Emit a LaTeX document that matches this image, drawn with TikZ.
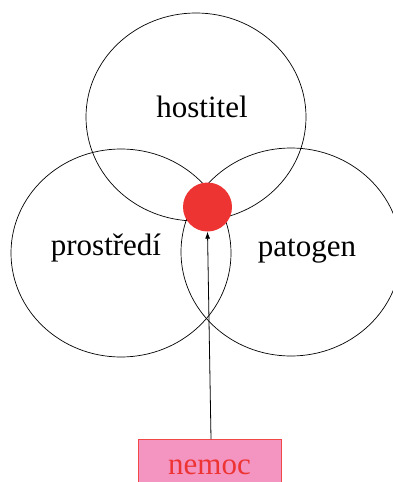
\documentclass[tikz,border=0pt]{standalone}
\usepackage{fontspec}
\setmainfont{Liberation Serif}
\usepackage{xcolor}
\usetikzlibrary{calc, shapes.geometric, positioning, arrows.meta}
\definecolor{nemocred}{HTML}{EE3333}
\definecolor{nemocpink}{HTML}{F395C0}

\begin{document}
\begin{tikzpicture}[x=1pt, y=-1pt, >={Latex[length=7pt, width=5pt]},
    kruh/.style={draw, ellipse, minimum width=220pt, minimum height=208pt, inner sep=0pt, line width=0.7pt},
    popis/.style={anchor=base, inner sep=0pt, font=\fontsize{31}{36}\selectfont}]
    % 0. Hranice obrázku
    \useasboundingbox (0,0) rectangle (393,482);
    \clip (0,0) rectangle (393,482);

    % 1. Tři kruhy
    \node[kruh] (hostitel) at (196,117) {};
    \node[kruh] (prostredi) at (121,253) {};
    \node[kruh] (patogen) at (291,252) {};

    % 2. Popisky kruhů
    \node[popis] (lhostitel) at (202,117) {hostitel};
    \node[popis] (lprostredi) at (106,255) {prostředí};
    \node[popis] (lpatogen) at (307,256) {patogen};

    % 3. Průnik -- červená tečka
    \node[circle, fill=nemocred, minimum size=49pt, inner sep=0pt] (tecka) at (207.5,207) {};

    % 4. Rámeček nemoc
    \node[draw=nemocred!90, fill=nemocpink, minimum width=143pt, minimum height=56pt,
          anchor=north, text=nemocred, font=\fontsize{31}{36}\selectfont] (nemoc) at (209.5,439) {nemoc};

    % 5. Šipka k průniku
    \draw[->, line width=0.8pt] ($(nemoc.north)+(1.5,0)$) -- (tecka.south);
\end{tikzpicture}
\end{document}
